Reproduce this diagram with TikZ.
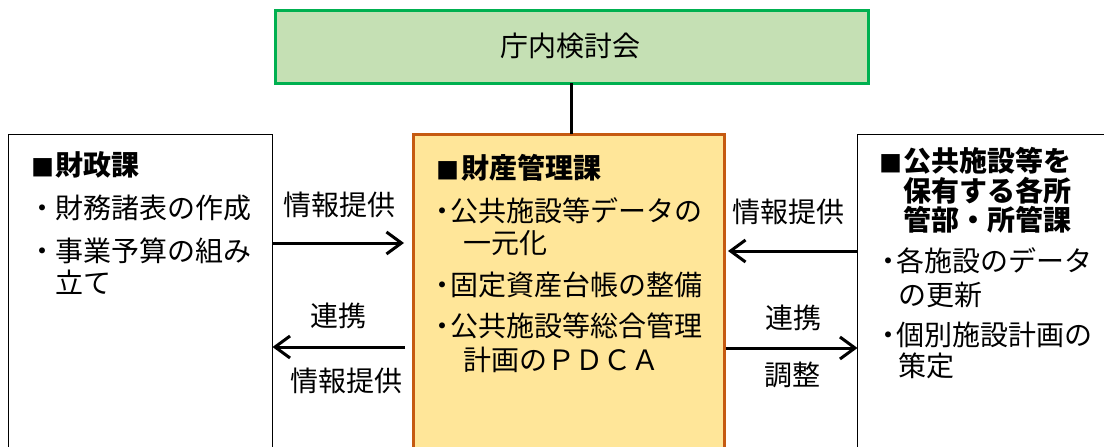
\documentclass[tikz,border=0pt]{standalone}
\usepackage{fontspec}
\setmainfont{Noto Sans CJK JP}
\usetikzlibrary{arrows.meta}
\definecolor{gborder}{RGB}{0,176,80}
\definecolor{gfill}{RGB}{197,224,180}
\definecolor{oborder}{RGB}{197,90,17}
\definecolor{ofill}{RGB}{255,230,153}
\begin{document}
\begin{tikzpicture}[x=1pt,y=-1pt,
  base/.style={inner sep=0pt, outer sep=0pt, yshift=-5pt, text height=0.88em, text depth=0.12em, font=\fontsize{28}{32}\selectfont},
  txt/.style={base, anchor=west},
  hdr/.style={base, anchor=west, font=\fontsize{28}{32}\selectfont\bfseries},
  sq/.style={inner sep=0pt, outer sep=0pt, yshift=-1pt, anchor=center, font=\fontsize{23}{26}\selectfont},
  bul/.style={base, anchor=center},
  lbl/.style={base, anchor=center},
  box/.style={inner sep=0pt, outer sep=0pt, anchor=north west},
  arr/.style={line width=3pt, -{Straight Barb[length=15pt,width=22pt,line width=3pt]}}
]
\clip (0,0) rectangle (1104,447);
\fill[white] (0,0) rectangle (1104,447);

% boxes
\node[box, draw=gborder, fill=gfill, line width=3pt, minimum width=593pt, minimum height=73pt] (kentou) at (275,10) {};
\node[lbl] (title) at (570,48) {庁内検討会};
\node[box, draw=oborder, fill=ofill, line width=3pt, minimum width=311pt, minimum height=340pt] (kanri) at (413,134) {};
\node[box, draw=black, line width=1pt, minimum width=264pt, minimum height=340pt] (zaisei) at (8.5,134) {};
\node[box, draw=black, line width=1pt, minimum width=300pt, minimum height=340pt] (kakusho) at (857.5,134) {};

% link from top box
\draw[line width=3pt] (kentou.south) -- (kentou.south |- kanri.north);

% left box text
\node[sq] (zsq) at (43,167) {■};
\node[hdr] (zh) at (55.5,167) {財政課};
\node[bul] (zb1) at (42,210) {・};
\node[txt] (z1) at (55.5,210) {財務諸表の作成};
\node[bul] (zb2) at (42,253) {・};
\node[txt] (z2) at (55.5,253) {事業予算の組み};
\node[txt] (z3) at (55.5,285) {立て};

% center box text
\node[sq] (ksq) at (447.5,170) {■};
\node[hdr] (kh) at (461.5,170) {財産管理課};
\node[bul] (kb1) at (442,213) {・};
\node[txt] (k1) at (450.5,213) {公共施設等データの};
\node[txt] (k2) at (463,245) {一元化};
\node[bul] (kb2) at (442,287) {・};
\node[txt] (k3) at (450.5,287) {固定資産台帳の整備};
\node[bul] (kb3) at (442,328) {・};
\node[txt] (k4) at (450.5,328) {公共施設等総合管理};
\node[txt] (k5) at (463,362) {計画のＰＤＣＡ};

% right box text
\node[sq] (rsq) at (891,163) {■};
\node[hdr] (rh1) at (903.5,163) {公共施設等を};
\node[hdr] (rh2) at (903.5,193) {保有する各所};
\node[hdr] (rh3) at (903.5,222) {管部・所管課};
\node[bul] (rb1) at (888,263) {・};
\node[txt] (r1) at (896.5,263) {各施設のデータ};
\node[txt] (r2) at (898,297) {の更新};
\node[bul] (rb2) at (888,337) {・};
\node[txt] (r3) at (896.5,337) {個別施設計画の};
\node[txt] (r4) at (898,368) {策定};

% arrows
\draw[arr] (zaisei.east |- 0,243) -- ([xshift=-9pt]kanri.west |- 0,243);
\draw[arr] ([xshift=-8pt]kanri.west |- 0,347) -- (zaisei.east |- 0,347);
\draw[arr] (kakusho.west |- 0,251) -- ([xshift=4pt]kanri.east |- 0,251);
\draw[arr] ([xshift=1.5pt]kanri.east |- 0,348) -- (kakusho.west |- 0,348);

% arrow labels
\node[lbl] (la1) at (339,207) {情報提供};
\node[lbl] (la2) at (338,318) {連携};
\node[lbl] (la3) at (346,383) {情報提供};
\node[lbl] (ra1) at (788,214) {情報提供};
\node[lbl] (ra2) at (793,320) {連携};
\node[lbl] (ra3) at (792,377) {調整};
\end{tikzpicture}
\end{document}
